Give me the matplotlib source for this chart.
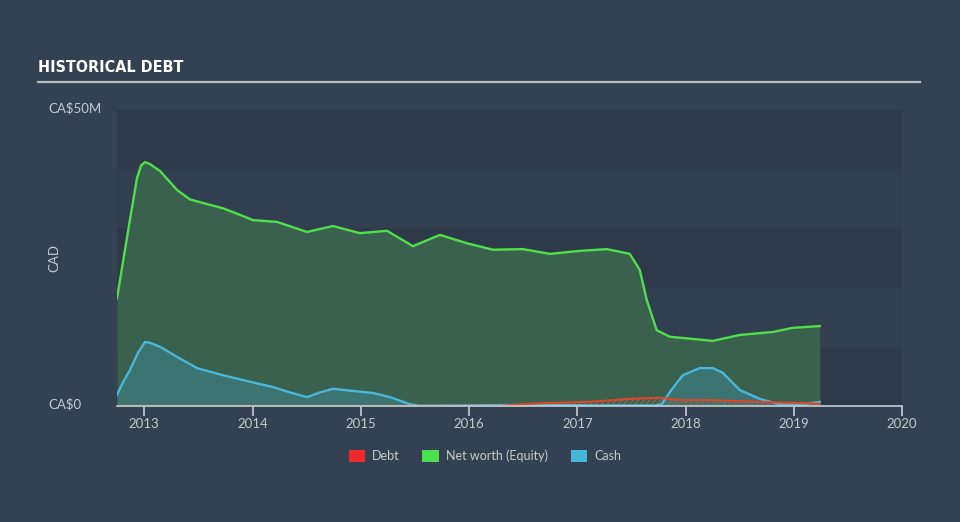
import matplotlib
matplotlib.use("Agg")
import matplotlib.pyplot as plt
from matplotlib.patches import Patch
import numpy as np

# ---- data (CA$ millions) ----
nw_years = [2012.748, 2012.822, 2012.868, 2012.933, 2012.970, 2013.006, 2013.050, 2013.145,
            2013.302, 2013.422, 2013.542, 2013.727, 2013.884, 2014.004, 2014.226, 2014.503,
            2014.743, 2014.992, 2015.242, 2015.482, 2015.731, 2015.980, 2016.220, 2016.497,
            2016.746, 2017.023, 2017.273, 2017.485, 2017.577, 2017.642, 2017.734, 2017.855,
            2018.252, 2018.501, 2018.806, 2018.990, 2019.240]
nw_values = [18.2, 26.4, 31.5, 38.5, 40.6, 41.2, 40.9, 39.7,
             36.5, 34.9, 34.3, 33.4, 32.3, 31.4, 31.1, 29.4,
             30.4, 29.2, 29.6, 27.0, 28.9, 27.5, 26.4, 26.5,
             25.7, 26.2, 26.5, 25.7, 23.0, 17.9, 12.8, 11.7,
             11.0, 12.0, 12.5, 13.2, 13.5]

cash_years = [2012.748, 2012.803, 2012.868, 2012.942, 2013.006, 2013.050, 2013.145, 2013.302,
              2013.487, 2013.727, 2013.976, 2014.189, 2014.346, 2014.503, 2014.623, 2014.743,
              2015.112, 2015.269, 2015.454, 2015.546, 2016.008, 2016.470, 2017.209, 2017.716,
              2017.780, 2017.873, 2017.975, 2018.132, 2018.252, 2018.345, 2018.501, 2018.686,
              2018.870, 2019.083, 2019.240]
cash_values = [1.9, 4.0, 6.1, 9.0, 10.8, 10.7, 10.0, 8.3,
               6.4, 5.2, 4.1, 3.2, 2.3, 1.5, 2.3, 2.9,
               2.2, 1.5, 0.3, 0.05, 0.1, 0.2, 0.1, 0.1,
               0.3, 2.8, 5.2, 6.4, 6.4, 5.6, 2.7, 1.2,
               0.3, 0.3, 0.7]

debt_years = [2012.748, 2016.285, 2016.470, 2016.720, 2017.117, 2017.485, 2017.762, 2017.947,
              2018.224, 2018.686, 2019.240]
debt_values = [0.0, 0.0, 0.3, 0.5, 0.7, 1.2, 1.4, 1.0, 1.0, 0.7, 0.4]

year_ticks = [2013, 2014, 2015, 2016, 2017, 2018, 2019, 2020]
legend_labels = ["Debt", "Net worth (Equity)", "Cash"]

# ---- style ----
BG = "#334152"
BAND_DARK = "#2e3a4a"
BAND_LIGHT = "#323f50"
TXT = "#c5cad0"
GREEN_LINE = "#4fe04a"
GREEN_FILL = "#3a604e"
CASH_LINE = "#4ab8dc"
CASH_FILL = "#3b7470"
DEBT_LINE = "#e0462a"

plt.rcParams['font.family'] = ['Lato', 'DejaVu Sans']
plt.rcParams['hatch.color'] = '#8a6a5a'
plt.rcParams['hatch.linewidth'] = 0.8

fig = plt.figure(figsize=(9.6, 5.22), dpi=100, facecolor=BG)
ax = fig.add_axes([117/960, 1-406/522, (902-117)/960, (406-110)/522])
ax.set_facecolor(BAND_LIGHT)

xmin, xmax = 2012.748, 2019.996
ax.set_xlim(xmin, xmax)
ax.set_ylim(0, 50)

for lo in (0, 20, 40):
    ax.axhspan(lo, lo+10, color=BAND_DARK, zorder=0, lw=0)

ax.fill_between(nw_years, 0, nw_values, color=GREEN_FILL, zorder=1, lw=0)
ax.plot(nw_years, nw_values, color=GREEN_LINE, lw=1.7, zorder=4, solid_joinstyle='round')

ax.fill_between(cash_years, 0, cash_values, color=CASH_FILL, zorder=2, lw=0)
ax.plot(cash_years, cash_values, color=CASH_LINE, lw=1.7, zorder=5, solid_joinstyle='round')

ax.fill_between(debt_years, 0, debt_values, facecolor='none', hatch='//////',
                edgecolor='#8a6a5a', zorder=3, lw=0)
ax.plot(debt_years, debt_values, color=DEBT_LINE, lw=1.5, zorder=6)

for s in ['top', 'right', 'left']:
    ax.spines[s].set_visible(False)
ax.spines['bottom'].set_color('#c8ccd2')
ax.spines['bottom'].set_linewidth(1.2)
ax.spines['bottom'].set_zorder(7)

ax.set_yticks([])
ax.set_xticks(year_ticks)
ax.set_xticklabels([str(y) for y in year_ticks])
ax.tick_params(axis='x', colors='#c8ccd2', labelcolor=TXT, length=7, width=1.2,
               labelsize=9.5, pad=2)

fig.text(48/960, 1-108/522, "CA\\$50M", color=TXT, fontsize=9.5, va='center', ha='left')
fig.text(48/960, 1-404/522, "CA\\$0", color=TXT, fontsize=9.5, va='center', ha='left')
fig.text(54/960, 1-258/522, "CAD", color=TXT, fontsize=9.5, va='center', ha='center',
         rotation=90)

fig.text(38/960, 1-68/522, "HISTORICAL DEBT", color='white', fontsize=11.5, fontweight='bold',
         va='center', ha='left', family='DejaVu Sans', fontstretch='condensed')
fig.add_artist(plt.Line2D([38/960, 920/960], [1-82/522, 1-82/522], color='#b9bec4', lw=1.6))

handles = [Patch(facecolor='#ee2a2a'), Patch(facecolor='#4ce04c'), Patch(facecolor='#47b6dc')]
fig.legend(handles, legend_labels, loc='center', bbox_to_anchor=(485/960, 1-456/522), ncol=3,
           frameon=False, fontsize=9, labelcolor=TXT, handlelength=1.3, handleheight=1.0,
           columnspacing=1.8, handletextpad=0.6)

fig.savefig("out.png", dpi=100, facecolor=BG)
